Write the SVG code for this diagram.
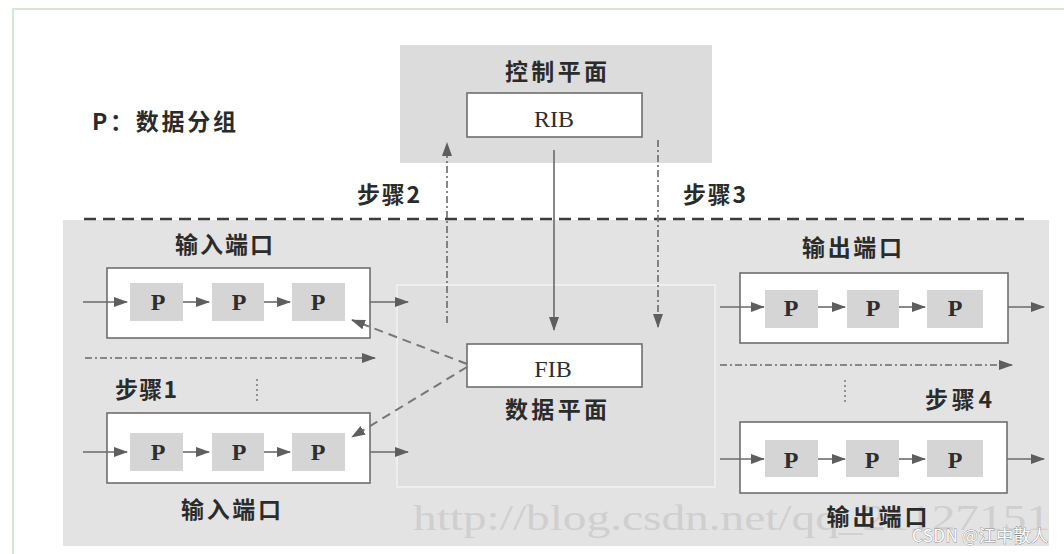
<svg xmlns="http://www.w3.org/2000/svg" width="1064" height="554" viewBox="0 0 1064 554">
<style>
.cjk{font-family:"Noto Sans CJK SC","Noto Sans CJK JP",sans-serif;font-weight:bold;font-size:23px;fill:#2b2b2b}
.ser{font-family:"Liberation Serif",serif;font-size:24px;fill:#2e2e2e}
.p{font-family:"Liberation Serif",serif;font-size:24px;font-weight:bold;fill:#2e2e2e;text-anchor:middle}
.pb{fill:#d5d5d5}
.port{fill:#fff;stroke:#6e6e6e;stroke-width:1.6}
.ln{stroke:#6a6a6a;stroke-width:1.6;fill:none}
.dd{stroke:#6a6a6a;stroke-width:1.6;fill:none;stroke-dasharray:7 3 2 3}
.ds{stroke:#777;stroke-width:2;fill:none;stroke-dasharray:9 6}
.dot{stroke:#777;stroke-width:1.5;fill:none;stroke-dasharray:2 3}
</style>
<defs>
<marker id="ah" viewBox="0 0 14 10" refX="13" refY="5" markerWidth="14" markerHeight="10" markerUnits="userSpaceOnUse" orient="auto">
<path d="M0,0 L14,5 L0,10 z" fill="#5e5e5e"/>
</marker>
</defs>
<rect width="1064" height="554" fill="#fff"/>
<path d="M13,554 V9 H1064" fill="none" stroke="#d2e9d2" stroke-width="2"/>
<g id="backgrounds">
<rect x="63" y="220" width="986" height="326" fill="#e3e3e3"/>
<rect x="400" y="45" width="312" height="118" fill="#dcdcdc"/>
<line x1="84" y1="219" x2="1024" y2="219" stroke="#3c3c3c" stroke-width="2.5" stroke-dasharray="12 7"/>
</g>
<text x="413" y="530" font-family="Liberation Serif,serif" font-size="36" fill="#cfcfcf" textLength="637" lengthAdjust="spacingAndGlyphs">http://blog.csdn.net/qq_21127151</text>
<g id="legend"><text class="cjk" x="92" y="130" textLength="144">P：数据分组</text></g>
<g id="control-plane">
<text class="cjk" x="556" y="80" text-anchor="middle" textLength="102">控制平面</text>
</g>
<g id="rib">
<rect x="467" y="93" width="175" height="44" fill="#fff" stroke="#6e6e6e" stroke-width="1.6"/>
<text class="ser" x="554" y="127" text-anchor="middle">RIB</text>
</g>
<g id="data-plane">
<rect x="397" y="285" width="318" height="202" fill="#dfdfdf" stroke="#f3f3f3" stroke-width="1.5"/>
<text class="cjk" x="556" y="418" text-anchor="middle" textLength="102">数据平面</text>
</g>
<g id="fib">
<rect x="467" y="344" width="175" height="43" fill="#fff" stroke="#6e6e6e" stroke-width="1.6"/>
<text class="ser" x="553" y="377" text-anchor="middle">FIB</text>
</g>
<g id="input-port-1">
<text class="cjk" x="224" y="253" text-anchor="middle" textLength="98">输入端口</text>
<rect class="port" x="107" y="268" width="263" height="70"/>
<rect class="pb" x="130" y="283" width="53" height="38"/><text class="p" x="158" y="310">P</text>
<rect class="pb" x="212" y="283" width="52" height="38"/><text class="p" x="239" y="310">P</text>
<rect class="pb" x="292" y="283" width="53" height="38"/><text class="p" x="318" y="310">P</text>
</g>
<g id="input-port-2">
<rect class="port" x="107" y="413" width="263" height="70"/>
<rect class="pb" x="130" y="433" width="53" height="38"/><text class="p" x="158" y="460">P</text>
<rect class="pb" x="212" y="433" width="52" height="38"/><text class="p" x="239" y="460">P</text>
<rect class="pb" x="292" y="433" width="53" height="38"/><text class="p" x="318" y="460">P</text>
<text class="cjk" x="231" y="518" text-anchor="middle" textLength="100">输入端口</text>
</g>
<g id="output-port-1">
<text class="cjk" x="852" y="256" text-anchor="middle" textLength="100">输出端口</text>
<rect class="port" x="740" y="273" width="268" height="70"/>
<rect class="pb" x="765" y="290" width="53" height="38"/><text class="p" x="791" y="316">P</text>
<rect class="pb" x="847" y="290" width="52" height="38"/><text class="p" x="873" y="316">P</text>
<rect class="pb" x="927" y="290" width="56" height="38"/><text class="p" x="955" y="316">P</text>
</g>
<g id="output-port-2">
<rect class="port" x="740" y="422" width="267" height="71"/>
<rect class="pb" x="765" y="440" width="53" height="37"/><text class="p" x="791" y="468">P</text>
<rect class="pb" x="846" y="440" width="53" height="37"/><text class="p" x="872" y="468">P</text>
<rect class="pb" x="927" y="440" width="56" height="37"/><text class="p" x="955" y="468">P</text>
<text class="cjk" x="877" y="525" text-anchor="middle" textLength="101">输出端口</text>
</g>
<g id="step-labels">
<text class="cjk" x="357" y="203" textLength="63">步骤2</text>
<text class="cjk" x="683" y="203" textLength="63">步骤3</text>
<text class="cjk" x="115" y="398" textLength="62">步骤1</text>
<text class="cjk" x="925" y="408" textLength="67">步骤4</text>
</g>
<g id="connectors">
<line class="ln" x1="83" y1="302" x2="127" y2="302" marker-end="url(#ah)"/>
<line class="ln" x1="183" y1="302" x2="209" y2="302" marker-end="url(#ah)"/>
<line class="ln" x1="264" y1="302" x2="290" y2="302" marker-end="url(#ah)"/>
<line class="ln" x1="370" y1="302" x2="408" y2="302" marker-end="url(#ah)"/>
<line class="ln" x1="83" y1="452" x2="127" y2="452" marker-end="url(#ah)"/>
<line class="ln" x1="183" y1="452" x2="209" y2="452" marker-end="url(#ah)"/>
<line class="ln" x1="264" y1="452" x2="290" y2="452" marker-end="url(#ah)"/>
<line class="ln" x1="370" y1="452" x2="408" y2="452" marker-end="url(#ah)"/>
<line class="ln" x1="720" y1="307" x2="764" y2="307" marker-end="url(#ah)"/>
<line class="ln" x1="818" y1="307" x2="845" y2="307" marker-end="url(#ah)"/>
<line class="ln" x1="899" y1="307" x2="925" y2="307" marker-end="url(#ah)"/>
<line class="ln" x1="1008" y1="307" x2="1044" y2="307" marker-end="url(#ah)"/>
<line class="ln" x1="720" y1="459" x2="764" y2="459" marker-end="url(#ah)"/>
<line class="ln" x1="818" y1="459" x2="845" y2="459" marker-end="url(#ah)"/>
<line class="ln" x1="899" y1="459" x2="925" y2="459" marker-end="url(#ah)"/>
<line class="ln" x1="1007" y1="459" x2="1044" y2="459" marker-end="url(#ah)"/>
<line class="ln" x1="554" y1="150" x2="554" y2="330" marker-end="url(#ah)"/>
<line class="dd" x1="447" y1="323" x2="447" y2="143" marker-end="url(#ah)"/>
<line class="dd" x1="658" y1="140" x2="658" y2="327" marker-end="url(#ah)"/>
<line class="dd" x1="85" y1="358" x2="375" y2="358" stroke-dasharray="4 3" stroke-width="1.3" marker-end="url(#ah)"/>
<line class="dd" x1="720" y1="365" x2="1012" y2="365" stroke-dasharray="4 3" stroke-width="1.3" marker-end="url(#ah)"/>
<line class="ds" x1="467" y1="364" x2="352" y2="320" marker-end="url(#ah)"/>
<line class="ds" x1="467" y1="367" x2="352" y2="437" marker-end="url(#ah)"/>
<line class="dot" x1="257" y1="379" x2="257" y2="402"/>
<line class="dot" x1="845" y1="380" x2="845" y2="404"/>
</g>
<text x="912" y="542" font-family="Noto Sans CJK SC,sans-serif" font-size="17" fill="#fff" stroke="#8a8a8a" stroke-width="0.8" paint-order="stroke" textLength="136">CSDN @江中散人</text>
</svg>
